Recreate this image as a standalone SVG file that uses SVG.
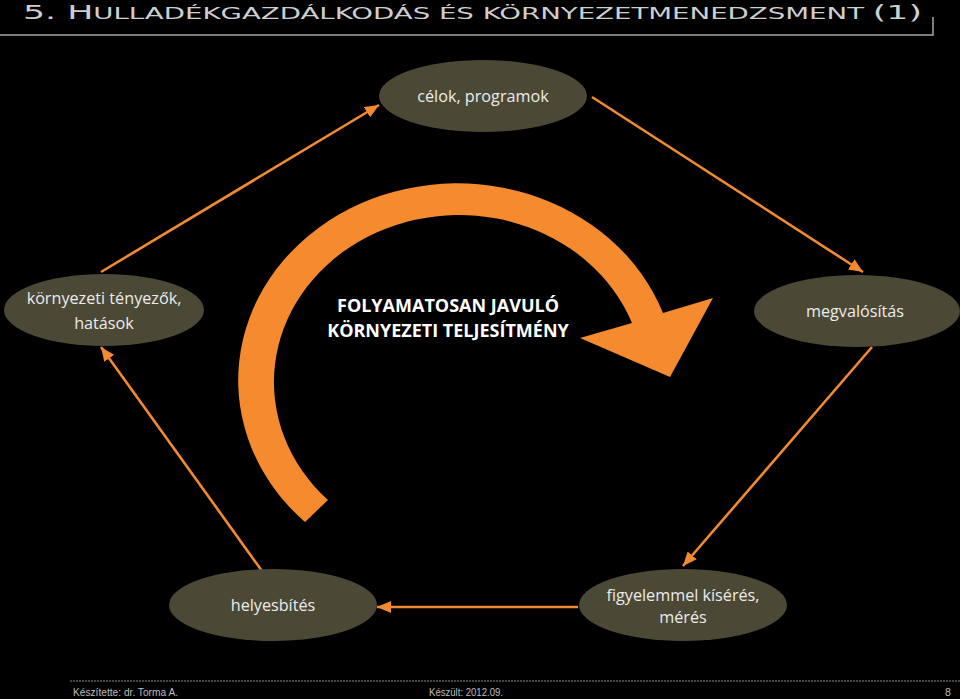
<svg xmlns="http://www.w3.org/2000/svg" width="960" height="699" viewBox="0 0 960 699">
<defs>
<style>
.node ellipse{fill:#4b4835;}
.node text{fill:#ececec;font-family:"Open Sans","Liberation Sans",sans-serif;font-size:16.2px;text-anchor:middle;}
.conn line{stroke:#f28a30;stroke-width:2.6;marker-end:url(#ah);}
.foot{fill:#bdbdbd;font-family:"Liberation Sans",sans-serif;font-size:10.5px;}
.sc{font-size:15.5px;}
</style>
<marker id="ah" markerUnits="userSpaceOnUse" markerWidth="14" markerHeight="12" refX="14" refY="6" orient="auto">
<path d="M0,0 L14,6 L0,12 z" fill="#f28a30"/>
</marker>
</defs>
<rect width="960" height="699" fill="#000"/>

<text x="23" y="19" font-family="'DejaVu Sans','Liberation Sans',sans-serif" font-size="19.5" fill="#cfcfcf" textLength="899" lengthAdjust="spacingAndGlyphs">5. H<tspan class="sc">ULLADÉKGAZDÁLKODÁS ÉS KÖRNYEZETMENEDZSMENT </tspan>(1)</text>
<path d="M0,35 H933 V17" fill="none" stroke="#a8a8a8" stroke-width="1.5"/>

<g id="cycle-arrow">
<path d="M305,522 A219,197 0 1 1 663,313 L713,298 L670,377 L580,338 L632,323 A185,167 0 1 0 328,500 Z" fill="#f58a2f"/>
<text x="448" y="312" font-family="'Open Sans','Liberation Sans',sans-serif" font-weight="bold" font-size="18" fill="#fff" text-anchor="middle">FOLYAMATOSAN JAVULÓ</text>
<text x="448" y="337" font-family="'Open Sans','Liberation Sans',sans-serif" font-weight="bold" font-size="18" fill="#fff" text-anchor="middle">KÖRNYEZETI TELJESÍTMÉNY</text>
</g>

<g class="conn">
<line x1="101" y1="272" x2="379" y2="105"/>
<line x1="592" y1="97" x2="863" y2="272"/>
<line x1="872" y1="347" x2="683" y2="566"/>
<line x1="578" y1="607" x2="377" y2="607"/>
<line x1="262" y1="571" x2="101" y2="347"/>
</g>

<g id="node-celok" class="node">
<ellipse cx="483" cy="96" rx="104" ry="36"/>
<text x="483" y="102">célok, programok</text>
</g>
<g id="node-kornyezeti" class="node">
<ellipse cx="104" cy="310" rx="100" ry="36"/>
<text x="104" y="304">környezeti tényezők,</text>
<text x="104" y="329">hatások</text>
</g>
<g id="node-megvalositas" class="node">
<ellipse cx="857" cy="311" rx="103" ry="36"/>
<text x="855" y="317">megvalósítás</text>
</g>
<g id="node-figyelemmel" class="node">
<ellipse cx="683" cy="605" rx="104" ry="36"/>
<text x="683" y="601">figyelemmel kísérés,</text>
<text x="683" y="623">mérés</text>
</g>
<g id="node-helyesbites" class="node">
<ellipse cx="273" cy="605" rx="104" ry="36"/>
<text x="273" y="611">helyesbítés</text>
</g>

<line x1="70" y1="681" x2="960" y2="681" stroke="#8a8a8a" stroke-width="1.2" stroke-dasharray="2,1"/>
<text class="foot" x="73" y="696" textLength="105" lengthAdjust="spacingAndGlyphs">Készítette: dr. Torma A.</text>
<text class="foot" x="429" y="696" textLength="74" lengthAdjust="spacingAndGlyphs">Készült: 2012.09.</text>
<text class="foot" x="945" y="696">8</text>
</svg>
